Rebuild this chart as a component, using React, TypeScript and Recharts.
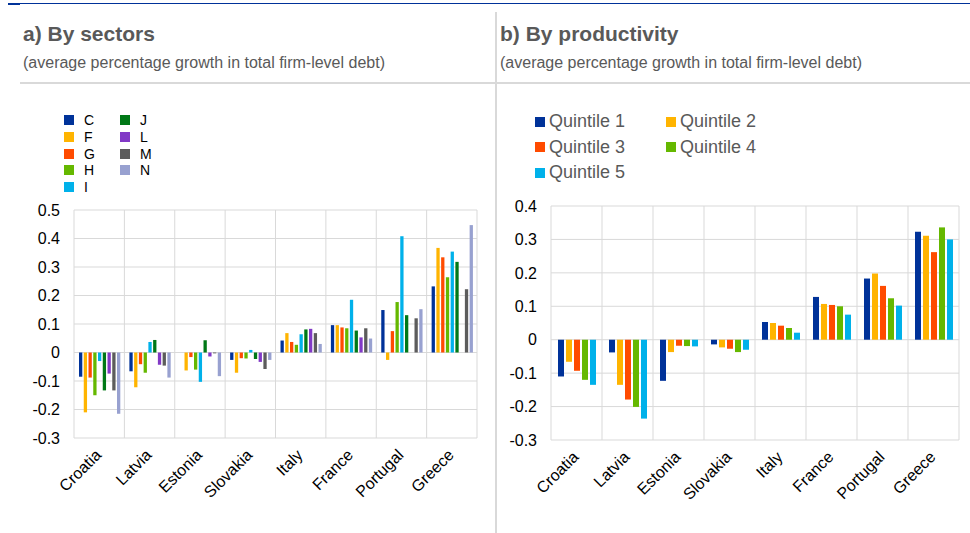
import React from "react"
import { BarChart, Bar, XAxis, YAxis, CartesianGrid, Legend } from "recharts"

const countries = ["Croatia", "Latvia", "Estonia", "Slovakia", "Italy", "France", "Portugal", "Greece"]

// panel a) by sector
const sectorC = [-0.085, -0.066, 0, -0.026, 0.042, 0.096, 0.149, 0.232]
const sectorF = [-0.21, -0.122, -0.063, -0.071, 0.068, 0.096, -0.026, 0.367]
const sectorG = [-0.088, -0.041, -0.016, -0.02, 0.037, 0.088, 0.075, 0.334]
const sectorH = [-0.15, -0.071, -0.06, -0.021, 0.027, 0.085, 0.177, 0.264]
const sectorI = [-0.03, 0.037, -0.103, 0.009, 0.064, 0.185, 0.408, 0.354]
const sectorJ = [-0.133, 0.044, 0.043, -0.023, 0.081, 0.077, 0.131, 0.318]
const sectorL = [-0.074, -0.043, -0.014, -0.033, 0.083, 0.053, 0, 0]
const sectorM = [-0.133, -0.046, -0.003, -0.058, 0.068, 0.085, 0.12, 0.222]
const sectorN = [-0.215, -0.088, -0.083, -0.026, 0.03, 0.049, 0.152, 0.447]

// panel b) by productivity quintile
const quintile1 = [-0.11, -0.038, -0.123, -0.014, 0.053, 0.128, 0.183, 0.323]
const quintile2 = [-0.066, -0.135, -0.037, -0.023, 0.05, 0.107, 0.198, 0.311]
const quintile3 = [-0.093, -0.179, -0.018, -0.027, 0.042, 0.104, 0.161, 0.262]
const quintile4 = [-0.12, -0.201, -0.019, -0.037, 0.035, 0.1, 0.124, 0.336]
const quintile5 = [-0.135, -0.236, -0.02, -0.03, 0.021, 0.075, 0.102, 0.3]

const sectorTicks = [-0.3, -0.2, -0.1, 0, 0.1, 0.2, 0.3, 0.4, 0.5]
const quintileTicks = [-0.3, -0.2, -0.1, 0, 0.1, 0.2, 0.3, 0.4]

const sectorSeries = [
  { key: "C", values: sectorC, color: "#003299" },
  { key: "F", values: sectorF, color: "#FFB400" },
  { key: "G", values: sectorG, color: "#FF4B00" },
  { key: "H", values: sectorH, color: "#65B800" },
  { key: "I", values: sectorI, color: "#00B1EA" },
  { key: "J", values: sectorJ, color: "#007816" },
  { key: "L", values: sectorL, color: "#8139C6" },
  { key: "M", values: sectorM, color: "#5C5C5C" },
  { key: "N", values: sectorN, color: "#98A1D0" },
]

const quintileSeries = [
  { key: "Quintile 1", values: quintile1, color: "#003299" },
  { key: "Quintile 2", values: quintile2, color: "#FFB400" },
  { key: "Quintile 3", values: quintile3, color: "#FF4B00" },
  { key: "Quintile 4", values: quintile4, color: "#65B800" },
  { key: "Quintile 5", values: quintile5, color: "#00B1EA" },
]

const buildRows = (series: { key: string; values: number[] }[]) =>
  countries.map((country, i) => {
    const row: Record<string, string | number> = { country }
    series.forEach((s) => (row[s.key] = s.values[i]))
    return row
  })

const sectorData = buildRows(sectorSeries)
const quintileData = buildRows(quintileSeries)

const FONT = "'Liberation Sans', Arial, Helvetica, sans-serif"
const GRID = "#d9d9d9"
const GREY_TEXT = "#595959"

// grid lines on category boundaries instead of category centres
const boundaryLines = ({ offset }: any) =>
  Array.from({ length: countries.length + 1 }, (_, i) => offset.left + (i * offset.width) / countries.length)

function SectorLegend(props: any) {
  const items = props.payload || []
  const cols = [items.slice(0, 5), items.slice(5)]
  return (
    <div style={{ display: "flex", fontFamily: FONT }}>
      {cols.map((col: any[], ci: number) => (
        <div key={ci} style={{ width: 56 }}>
          {col.map((it: any) => (
            <div key={it.value} style={{ display: "flex", alignItems: "center", height: 16.7, fontSize: 14, color: "#000" }}>
              <span style={{ width: 10, height: 10, background: it.color, marginRight: 10, flex: "none" }} />
              <span>{it.value}</span>
            </div>
          ))}
        </div>
      ))}
    </div>
  )
}

function QuintileLegend(props: any) {
  const items = props.payload || []
  return (
    <div style={{ display: "grid", gridTemplateColumns: "131px 131px", fontFamily: FONT }}>
      {items.map((it: any) => (
        <div key={it.value} style={{ display: "flex", alignItems: "center", height: 25.5, fontSize: 18, color: GREY_TEXT }}>
          <span style={{ width: 10, height: 10, background: it.color, marginRight: 4, flex: "none" }} />
          <span>{it.value}</span>
        </div>
      ))}
    </div>
  )
}

function CountryTick({ x, y, payload }: any) {
  return (
    <g transform={`translate(${x - 5},${y})`}>
      <text transform="rotate(-45)" textAnchor="end" dy="0.71em" fontSize={16} fill="#000">
        {payload.value}
      </text>
    </g>
  )
}

const tickStyle = { fontSize: 16, fill: "#000" }

export default function App() {
  return (
    <div style={{ position: "absolute", left: 0, top: 0, width: 970, height: 533, background: "#fff", fontFamily: FONT, overflow: "hidden" }}>
      {/* top rule */}
      <div style={{ position: "absolute", left: 8, top: 3, width: 962, height: 1, background: "#003299" }} />
      <div style={{ position: "absolute", left: 8, top: 3, width: 12, height: 2, background: "#003299" }} />
      {/* panel separators */}
      <div style={{ position: "absolute", left: 495, top: 12, width: 1.5, height: 521, background: GRID }} />
      <div style={{ position: "absolute", left: 20, top: 82, width: 950, height: 1.5, background: GRID }} />

      <div style={{ position: "absolute", left: 23, top: 23, fontSize: 21, lineHeight: "21px", fontWeight: 700, color: GREY_TEXT }}>
        a) By sectors
      </div>
      <div style={{ position: "absolute", left: 23, top: 55, fontSize: 16, lineHeight: "16px", color: GREY_TEXT }}>
        (average percentage growth in total firm-level debt)
      </div>
      <div style={{ position: "absolute", left: 500, top: 23, fontSize: 21, lineHeight: "21px", fontWeight: 700, color: GREY_TEXT }}>
        b) By productivity
      </div>
      <div style={{ position: "absolute", left: 500, top: 55, fontSize: 16, lineHeight: "16px", color: GREY_TEXT }}>
        (average percentage growth in total firm-level debt)
      </div>

      <div style={{ position: "absolute", left: 0, top: 0 }}>
        <BarChart width={490} height={533} data={sectorData} margin={{ top: 210, right: 13, bottom: 0, left: 0 }} barGap={1.45}>
          <CartesianGrid stroke={GRID} verticalCoordinatesGenerator={boundaryLines} />
          <XAxis dataKey="country" interval={0} axisLine={false} tickLine={false} height={95} tickMargin={4} tick={<CountryTick />} />
          <YAxis
            domain={[-0.3, 0.5]}
            ticks={sectorTicks}
            axisLine={false}
            tickLine={false}
            tickSize={0}
            tickMargin={14}
            width={74}
            tick={tickStyle}
          />
          <Legend
            layout="horizontal"
            verticalAlign="middle"
            align="center"
            content={SectorLegend}
            wrapperStyle={{ left: 64, top: 112, width: 160, height: 84 }}
          />
          {sectorSeries.map((s) => (
            <Bar key={s.key} dataKey={s.key} name={s.key} fill={s.color} barSize={3.3} isAnimationActive={false} />
          ))}
        </BarChart>
      </div>

      <div style={{ position: "absolute", left: 497, top: 0 }}>
        <BarChart width={473} height={533} data={quintileData} margin={{ top: 206, right: 11, bottom: 0, left: 0 }} barGap={2}>
          <CartesianGrid stroke={GRID} verticalCoordinatesGenerator={boundaryLines} />
          <XAxis dataKey="country" interval={0} axisLine={false} tickLine={false} height={93} tickMargin={4} tick={<CountryTick />} />
          <YAxis
            domain={[-0.3, 0.4]}
            ticks={quintileTicks}
            axisLine={false}
            tickLine={false}
            tickSize={0}
            tickMargin={14}
            width={54}
            tick={tickStyle}
          />
          <Legend
            layout="horizontal"
            verticalAlign="middle"
            align="center"
            content={QuintileLegend}
            wrapperStyle={{ left: 38, top: 109, width: 262, height: 77 }}
          />
          {quintileSeries.map((s) => (
            <Bar key={s.key} dataKey={s.key} name={s.key} fill={s.color} barSize={6} isAnimationActive={false} />
          ))}
        </BarChart>
      </div>
    </div>
  )
}
